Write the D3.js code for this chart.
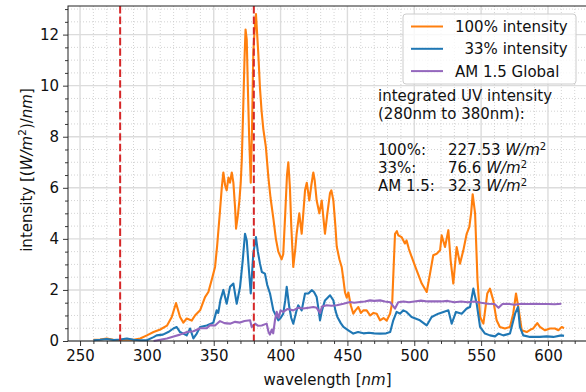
<!DOCTYPE html>
<html>
<head>
<meta charset="utf-8">
<script src="https://cdn.jsdelivr.net/npm/d3@7"></script>
<style>
  body { margin: 0; background: #fff; }
  text { font-family: "DejaVu Sans", sans-serif; }
</style>
</head>
<body>
<div class="chart"></div>
<script>
// spectra: [wavelength nm, intensity (W/m2)/nm]
const full100 = [
  [260,0.05],[265,0.06],[270,0.1],[275,0.05],[280,0.04],[285,0.06],[290,0.05],[295,0.1],
  [300,0.22],[305,0.35],[310,0.45],[315,0.6],[318.6,0.94],[321.8,1.49],[324.8,0.94],[327.3,0.72],
  [329.8,0.88],[333.5,0.8],[336,1.0],[339.8,1.2],[343.5,1.72],[346,1.92],[348.5,2.4],[351,2.9],
  [352.5,3.7],[354.7,5.1],[356,6.0],[357.2,6.6],[358.5,6.1],[359.7,5.9],[361,6.4],[362.2,6.2],
  [363.5,6.6],[364.7,6.2],[366,5.2],[366.7,4.4],[368,4.9],[369.2,5.5],[370.2,6.2],[371,7.1],
  [372,9.0],[373,11.0],[373.8,12.2],[374.7,11.8],[375.5,10.0],[376.5,8.0],[377.7,6.2],[378.7,8.5],
  [379.6,11.3],[380.6,12.2],[381.6,12.8],[382.5,12.0],[383.4,11.2],[384.6,9.9],[385.8,9.0],[387.1,8.3],
  [389,7.6],[390.9,6.4],[392.5,5.6],[394.6,4.8],[396.5,4.0],[398.3,3.5],[400.8,3.2],[402,3.4],
  [403.5,5.0],[404.8,6.5],[405.8,7.0],[407,6.0],[408,4.5],[409.5,2.9],[411,3.6],[412,4.2],
  [414,5.0],[415.8,4.2],[417,5.0],[418.3,5.9],[419.6,6.2],[421.5,5.5],[423,6.1],[424.5,6.6],
  [425.5,6.3],[427,5.5],[429,5.0],[430.8,5.5],[433.2,4.2],[435,5.0],[437,5.8],[438,5.9],
  [439.5,5.5],[441,4.5],[442,3.7],[444,3.2],[445.7,2.9],[447,2.4],[448.2,1.9],[449.5,1.7],
  [450.7,1.9],[452.5,1.4],[454.4,1.07],[456,1.2],[458.2,1.33],[460,1.1],[462,1.2],[464.4,1.2],
  [467,1.0],[469.5,1.1],[471.9,1.07],[474.4,0.81],[477,0.9],[479.4,0.8],[481.9,1.07],[483.5,1.5],
  [484.5,2.8],[485.6,4.2],[487,4.3],[488,4.14],[490.5,4.07],[493,3.82],[494.2,3.94],[496,3.6],
  [498,3.3],[501.8,2.77],[505.6,2.25],[509.3,1.92],[511.8,2.64],[514.2,3.36],[516.8,3.42],[519.3,3.55],
  [520.5,4.14],[523,3.68],[525.5,4.34],[527.2,3.16],[529.2,2.25],[531.7,3.68],[534.2,3.03],[536.7,3.55],
  [539.2,4.2],[541.2,4.47],[542.5,5.0],[543.7,5.75],[545.5,4.99],[547.3,2.38],[549.2,0.94],[551.7,0.68],
  [553,1.2],[554.6,1.86],[556.6,2.05],[559.1,1.59],[561.6,0.81],[564,0.55],[567.8,0.49],[571.6,0.55],
  [574,1.07],[576.1,1.86],[577.8,1.33],[580.4,0.42],[584.1,0.35],[587,0.45],[589,0.49],[592,0.7],
  [594,0.55],[597.8,0.42],[601.5,0.49],[605.3,0.49],[607.8,0.42],[610.3,0.55],[612,0.5]
];

const third33 = [
  [260,0.03],[265,0.05],[270,0.08],[275,0.04],[280,0.06],[285,0.1],[290,0.05],[295,0.03],
  [300,0.03],[305,0.15],[307.3,0.22],[312,0.25],[316,0.35],[319.8,0.49],[322.3,0.55],[324.8,0.35],
  [329.8,0.22],[332.3,0.49],[334.8,0.1],[337.3,0.29],[339.8,0.55],[344.8,0.61],[349.7,0.72],[352.2,1.2],
  [353.4,1.1],[355,1.6],[357.2,2.0],[359.7,1.46],[362.2,2.12],[364.7,2.25],[367.2,1.46],[369.7,2.12],
  [371.7,3.16],[373.4,4.2],[374.7,3.94],[376,3.0],[377.7,1.86],[379.6,3.42],[381.6,4.07],[383,3.5],
  [384.6,3.03],[386,2.7],[388.3,2.64],[390,2.2],[392.1,1.86],[394.6,1.2],[396.5,1.0],[398.3,0.81],
  [400,0.9],[402,1.07],[403.5,1.6],[404.6,2.12],[406.5,1.33],[408,0.9],[409.5,0.68],[412,1.2],
  [413.2,1.4],[415.8,1.2],[418.3,1.86],[420.8,1.86],[423.3,1.99],[425,1.92],[427,1.72],[428.5,1.2],
  [429.5,0.81],[431,1.2],[433.2,1.59],[437,1.79],[439.5,1.59],[441,1.2],[442.5,0.94],[445,0.7],
  [447,0.55],[450.7,0.42],[454.4,0.29],[458,0.35],[462,0.3],[466,0.32],[470,0.3],[474.4,0.29],
  [479,0.3],[482,0.35],[484.3,0.81],[486.8,1.14],[489.3,1.07],[491.8,1.2],[494.2,1.14],[498,0.94],
  [504.2,0.81],[509.3,0.61],[513,0.94],[518,1.07],[521.8,1.14],[525.5,1.2],[528,0.68],[531.2,1.14],
  [535.5,1.07],[539.2,1.27],[541.7,1.33],[544.2,2.05],[546.7,1.46],[549.2,0.55],[552.9,0.29],[556.6,0.22],
  [560.4,0.18],[562.9,0.29],[566.6,0.22],[571.6,0.29],[575.4,1.07],[577.6,1.33],[579,0.55],[581.5,0.22],
  [586.6,0.16],[594,0.16],[599,0.18],[604,0.16],[610,0.22],[612,0.2]
];

const am15 = [
  [305,0.0],[310,0.05],[315,0.1],[320,0.18],[324.8,0.25],[330,0.35],[334.8,0.38],[339.8,0.5],
  [344.8,0.5],[347.2,0.62],[351,0.61],[354.7,0.78],[358,0.7],[362.2,0.68],[366,0.75],[369.7,0.72],
  [373,0.78],[377.2,0.81],[378.4,0.55],[380.9,0.68],[383,0.6],[385.9,0.61],[389.6,0.68],[391,0.35],
  [392,0.25],[393.4,0.45],[394.5,0.3],[395.8,0.81],[397.1,1.14],[398.5,0.9],[400,1.2],[402,1.14],
  [405,1.25],[409.5,1.2],[413,1.3],[417,1.27],[421,1.3],[424.5,1.33],[427,1.3],[429.5,1.1],
  [431,1.35],[434.5,1.4],[438,1.38],[442,1.4],[447,1.46],[452,1.53],[455,1.5],[459.4,1.53],
  [463,1.55],[466.9,1.59],[470,1.57],[474.4,1.59],[478,1.55],[482,1.52],[485.6,1.27],[488,1.52],
  [492,1.55],[496,1.52],[500,1.55],[505,1.58],[510,1.55],[515,1.55],[520,1.55],[525,1.57],
  [530,1.52],[535,1.55],[540,1.52],[545,1.55],[550,1.5],[555,1.46],[560,1.45],[563,1.3],
  [566,1.45],[570,1.46],[575,1.42],[580,1.46],[585,1.45],[590,1.46],[595,1.45],[600,1.45],
  [605,1.44],[610,1.46]
];

const uvBounds = [280, 380];
const seriesNames = ["100% intensity", "  33% intensity", "AM 1.5 Global"];
const seriesColors = ["#ff7f0e", "#1f77b4", "#9467bd"];
const xMajor = [250, 300, 350, 400, 450, 500, 550, 600];
const yMajor = [0, 2, 4, 6, 8, 10, 12];
const xMinor = d3.range(250, 621, 10).filter(v => v % 50 !== 0);
const yMinor = d3.range(0.5, 13.1, 0.5).filter(v => v % 2 !== 0);
const uvLabels = ["100%:", "33%:", "AM 1.5:"];
const uvValues = ["227.53", "76.6", "32.3"];

const W = 586, H = 392;
const mLeft = 68, mRight = 587, mTop = 6, mBottom = 341;

const svg = d3.select(".chart").append("svg")
  .attr("width", W)
  .attr("height", H);

const x = d3.scaleLinear().domain([241, 629.2]).range([mLeft, mRight]);
const y = d3.scaleLinear().domain([0, 13.12]).range([mBottom, mTop]);

// grid
const grid = svg.append("g");
grid.selectAll(".gxm").data(xMinor).enter().append("line")
  .attr("x1", d => x(d)).attr("x2", d => x(d)).attr("y1", mTop).attr("y2", mBottom)
  .attr("stroke", "#c8c8c8").attr("stroke-width", 0.8).attr("stroke-dasharray", "1,2");
grid.selectAll(".gym").data(yMinor).enter().append("line")
  .attr("x1", mLeft).attr("x2", mRight).attr("y1", d => y(d)).attr("y2", d => y(d))
  .attr("stroke", "#c8c8c8").attr("stroke-width", 0.8).attr("stroke-dasharray", "1,2");
grid.selectAll(".gx").data(xMajor).enter().append("line")
  .attr("x1", d => x(d)).attr("x2", d => x(d)).attr("y1", mTop).attr("y2", mBottom)
  .attr("stroke", "#dcdcdc").attr("stroke-width", 1.4);
grid.selectAll(".gy").data(yMajor).enter().append("line")
  .attr("x1", mLeft).attr("x2", mRight).attr("y1", d => y(d)).attr("y2", d => y(d))
  .attr("stroke", "#dcdcdc").attr("stroke-width", 1.4);

// spectra
const line = d3.line().x(d => x(d[0])).y(d => y(d[1]));
const plot = svg.append("g");
[full100, third33, am15].forEach((s, i) => {
  plot.append("path")
    .datum(s)
    .attr("d", line)
    .attr("fill", "none")
    .attr("stroke", seriesColors[i])
    .attr("stroke-width", 2.1)
    .attr("stroke-linejoin", "round");
});

// UV band limits
plot.selectAll(".uv").data(uvBounds).enter().append("line")
  .attr("x1", d => x(d)).attr("x2", d => x(d)).attr("y1", mTop).attr("y2", mBottom)
  .attr("stroke", "#d62728").attr("stroke-width", 2).attr("stroke-dasharray", "7.4,3.2");

// axes
svg.append("g").attr("transform", `translate(0,${mBottom})`)
  .call(d3.axisBottom(x).tickValues(xMajor).tickSize(5).tickPadding(4));
svg.append("g").attr("transform", `translate(0,${mBottom})`)
  .call(d3.axisBottom(x).tickValues(xMinor).tickSize(3).tickFormat(""));
svg.append("g").attr("transform", `translate(${mLeft},0)`)
  .call(d3.axisLeft(y).tickValues(yMajor).tickSize(5).tickPadding(4));
svg.append("g").attr("transform", `translate(${mLeft},0)`)
  .call(d3.axisLeft(y).tickValues(yMinor).tickSize(3).tickFormat(""));
svg.selectAll(".domain").remove();
svg.selectAll(".tick line").attr("stroke", "#222").attr("stroke-width", 0.9);
svg.selectAll(".tick text").attr("font-size", "15px").attr("fill", "#111")
  .attr("font-family", "DejaVu Sans");

// frame
svg.append("rect")
  .attr("x", mLeft).attr("y", mTop).attr("width", mRight - mLeft).attr("height", mBottom - mTop)
  .attr("fill", "none").attr("stroke", "#222").attr("stroke-width", 1);

// axis labels
const xl = svg.append("text").attr("x", (mLeft + mRight) / 2).attr("y", 385)
  .attr("text-anchor", "middle").attr("font-size", "15px").attr("fill", "#111");
xl.append("tspan").text("wavelength [");
xl.append("tspan").attr("font-style", "italic").text("nm");
xl.append("tspan").text("]");

const yl = svg.append("text").attr("transform", "translate(32,170) rotate(-90)")
  .attr("text-anchor", "middle").attr("font-size", "15px").attr("fill", "#111");
yl.append("tspan").text("intensity [(");
yl.append("tspan").attr("font-style", "italic").text("W/m");
yl.append("tspan").attr("font-size", "10.5px").attr("dy", -6).text("2");
yl.append("tspan").attr("dy", 6).text(")/");
yl.append("tspan").attr("font-style", "italic").text("nm");
yl.append("tspan").text("]");

// legend
const lg = svg.append("g");
lg.append("rect").attr("x", 403).attr("y", 14).attr("width", 173).attr("height", 70).attr("rx", 3)
  .attr("fill", "#fff").attr("fill-opacity", 0.8).attr("stroke", "#cccccc");
seriesNames.forEach((name, i) => {
  const yy = 26.5 + i * 22.3;
  lg.append("line").attr("x1", 411).attr("x2", 443).attr("y1", yy).attr("y2", yy)
    .attr("stroke", seriesColors[i]).attr("stroke-width", 2);
  lg.append("text").attr("x", 455).attr("y", yy + 5.5).attr("font-size", "15px")
    .attr("fill", "#111").style("white-space", "pre").text(name);
});

// integrated UV annotation
const ann = svg.append("g").attr("font-size", "15px").attr("fill", "#111");
ann.append("text").attr("x", 378).attr("y", 101).text("integrated UV intensity");
ann.append("text").attr("x", 378).attr("y", 119).text("(280nm to 380nm):");
uvLabels.forEach((lab, i) => {
  const yy = 155 + i * 18;
  ann.append("text").attr("x", 378).attr("y", yy).text(lab);
  const t = ann.append("text").attr("x", 448).attr("y", yy);
  t.append("tspan").text(uvValues[i] + " ");
  t.append("tspan").attr("font-style", "italic").text("W/m");
  t.append("tspan").attr("font-size", "10px").attr("dy", -5.5).text("2");
});
</script>
</body>
</html>
